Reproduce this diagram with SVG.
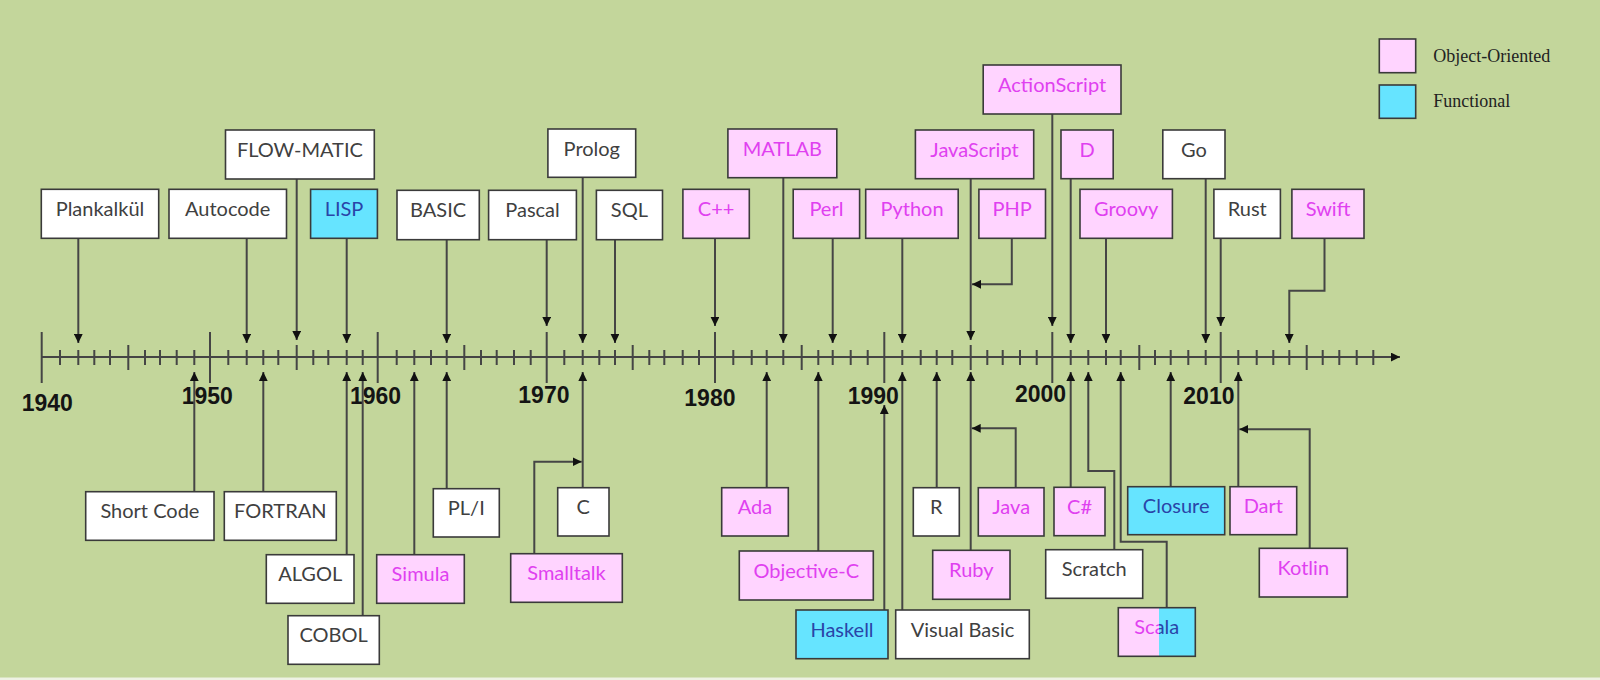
<svg xmlns="http://www.w3.org/2000/svg" width="1600" height="680" viewBox="0 0 1600 680">
<defs>
<style>
.w{fill:#ffffff;stroke:#3a3a3a;stroke-width:1.6}
.p{fill:#ffd4ff;stroke:#3a3a3a;stroke-width:1.6}
.b{fill:#66e4ff;stroke:#3a3a3a;stroke-width:1.6}
.t{font-family:Lato,"Liberation Sans",sans-serif;font-size:20px;text-anchor:middle}
.tw{fill:#404040}
.tp{fill:#e040f0}
.tb{fill:#2a44a8}
.c{fill:none;stroke:#454545;stroke-width:2}
.yr{font-family:"Liberation Sans",Arial,sans-serif;font-weight:bold;font-size:23px;fill:#141414}
.lg{font-family:"Liberation Serif","Times New Roman",serif;font-size:18px;fill:#222}
.tk{fill:none;stroke:#454545;stroke-width:2}
</style>
<marker id="ah" markerWidth="9" markerHeight="9" refX="9" refY="4.4" orient="auto" markerUnits="userSpaceOnUse">
<path d="M0,0 L9,4.4 L0,8.8 z" fill="#111"/>
</marker>
<linearGradient id="scf" gradientUnits="userSpaceOnUse" x1="1118.3" y1="0" x2="1195.3" y2="0">
<stop offset="0.528" stop-color="#ffd4ff"/><stop offset="0.528" stop-color="#66e4ff"/>
</linearGradient>
<linearGradient id="sct" gradientUnits="userSpaceOnUse" x1="1118.3" y1="0" x2="1195.3" y2="0">
<stop offset="0.528" stop-color="#e040f0"/><stop offset="0.528" stop-color="#2a44a8"/>
</linearGradient>
</defs>
<rect x="0" y="0" width="1600" height="680" fill="#c3d69b"/>
<rect x="0" y="677.5" width="1600" height="2.5" fill="#eef2e4"/>

<g id="axis">
<path class="c" d="M41.7,357 H1400" marker-end="url(#ah)"/>
<path class="tk" d="M41.7,332V383M210,332V383M377.7,332V383M546.7,332V383M715,332V383M884.3,332V383M1052.3,332V383M1220.7,332V383"/>
<path class="tk" d="M128.3,345V370M296.7,345V370M464.3,345V370M632.7,345V370M801.7,345V370M970.7,345V370M1139.3,345V370M1306.7,345V370"/>
<path class="tk" d="M60,350V365M78.3,350V365M94.3,350V365M110,350V365M145,350V365M160,350V365M176.7,350V365M194.3,350V365M228.3,350V365M246.7,350V365M263.3,350V365M278.3,350V365M313.3,350V365M328.3,350V365M346.7,350V365M362.7,350V365M396.7,350V365M414.3,350V365M431,350V365M446.7,350V365M481,350V365M496.7,350V365M514,350V365M530.7,350V365M564.3,350V365M582.7,350V365M599.3,350V365M615,350V365M649.3,350V365M664.3,350V365M682.7,350V365M699,350V365M733.3,350V365M751.7,350V365M766.7,350V365M783.3,350V365M818.3,350V365M832.7,350V365M850.7,350V365M867.7,350V365M902.3,350V365M920.7,350V365M936.7,350V365M952.3,350V365M987.3,350V365M1002.7,350V365M1020,350V365M1036.7,350V365M1070.7,350V365M1088.3,350V365M1106,350V365M1120.7,350V365M1155,350V365M1170.7,350V365M1188.3,350V365M1205.7,350V365M1238.3,350V365M1256.7,350V365M1273.3,350V365M1289.3,350V365M1322.7,350V365M1339.3,350V365M1356.7,350V365M1373.3,350V365"/>
<text class="yr" x="21.7" y="410.7">1940</text>
<text class="yr" x="181.7" y="404">1950</text>
<text class="yr" x="350" y="404">1960</text>
<text class="yr" x="518.3" y="403.3">1970</text>
<text class="yr" x="684.3" y="406">1980</text>
<text class="yr" x="847.7" y="404">1990</text>
<text class="yr" x="1015" y="401.7">2000</text>
<text class="yr" x="1183.3" y="404">2010</text>
</g>

<g id="connectors">
<path class="c" marker-end="url(#ah)" d="M78.3,238.3V343"/>
<path class="c" marker-end="url(#ah)" d="M246.7,238.3V343"/>
<path class="c" marker-end="url(#ah)" d="M296.7,179V340"/>
<path class="c" marker-end="url(#ah)" d="M346.7,238.3V343"/>
<path class="c" marker-end="url(#ah)" d="M446.7,239.7V343"/>
<path class="c" marker-end="url(#ah)" d="M546.7,239.7V326"/>
<path class="c" marker-end="url(#ah)" d="M582.7,177.3V343"/>
<path class="c" marker-end="url(#ah)" d="M615,239.7V343"/>
<path class="c" marker-end="url(#ah)" d="M715,238.3V326"/>
<path class="c" marker-end="url(#ah)" d="M783.3,177.7V343"/>
<path class="c" marker-end="url(#ah)" d="M832.7,238.3V343"/>
<path class="c" marker-end="url(#ah)" d="M902.3,238.3V343"/>
<path class="c" marker-end="url(#ah)" d="M970.7,178.7V340"/>
<path class="c" marker-end="url(#ah)" d="M1011.8,238.3V284.3H972"/>
<path class="c" marker-end="url(#ah)" d="M1052.3,114V326"/>
<path class="c" marker-end="url(#ah)" d="M1070.7,178.7V343"/>
<path class="c" marker-end="url(#ah)" d="M1106,238.3V343"/>
<path class="c" marker-end="url(#ah)" d="M1205.7,178.7V343"/>
<path class="c" marker-end="url(#ah)" d="M1220.7,238.3V326"/>
<path class="c" marker-end="url(#ah)" d="M1324.5,238.3V290.7H1289.3V343"/>

<path class="c" marker-end="url(#ah)" d="M194.3,491.7V372"/>
<path class="c" marker-end="url(#ah)" d="M263.3,491.7V372"/>
<path class="c" marker-end="url(#ah)" d="M346.7,554.7V372"/>
<path class="c" marker-end="url(#ah)" d="M362.7,615.7V372"/>
<path class="c" marker-end="url(#ah)" d="M414.3,554.7V372"/>
<path class="c" marker-end="url(#ah)" d="M446.7,488.7V372"/>
<path class="c" marker-end="url(#ah)" d="M582.7,487.7V372"/>
<path class="c" marker-end="url(#ah)" d="M534.3,553.7V461.7H581.7"/>
<path class="c" marker-end="url(#ah)" d="M766.7,487.7V372"/>
<path class="c" marker-end="url(#ah)" d="M818.3,551V372"/>
<path class="c" marker-end="url(#ah)" d="M884.3,610V405"/>
<path class="c" marker-end="url(#ah)" d="M902.3,610V372"/>
<path class="c" marker-end="url(#ah)" d="M936.7,487.7V372"/>
<path class="c" marker-end="url(#ah)" d="M970.7,550.3V372"/>
<path class="c" marker-end="url(#ah)" d="M1015.7,487.7V428.3H971.7"/>
<path class="c" marker-end="url(#ah)" d="M1070.7,487.3V372"/>
<path class="c" marker-end="url(#ah)" d="M1114.3,549.7V471H1088.3V372"/>
<path class="c" marker-end="url(#ah)" d="M1166.7,607.7V541.7H1120.7V372"/>
<path class="c" marker-end="url(#ah)" d="M1170.7,486.7V372"/>
<path class="c" marker-end="url(#ah)" d="M1238.3,486.7V372"/>
<path class="c" marker-end="url(#ah)" d="M1309.7,548.3V429.3H1239.3"/>
</g>

<g id="n-flowmatic"><rect class="w" x="225.5" y="130" width="148.8" height="49"/><text class="t tw" x="299.9" y="156.5">FLOW-MATIC</text></g>
<g id="n-plankalkul"><rect class="w" x="41.3" y="189.3" width="117.4" height="49"/><text class="t tw" x="100" y="216">Plankalkül</text></g>
<g id="n-autocode"><rect class="w" x="169" y="189.3" width="117.5" height="49"/><text class="t tw" x="227.7" y="216">Autocode</text></g>
<g id="n-lisp"><rect class="b" x="310.6" y="189.3" width="66.8" height="49"/><text class="t tb" x="344" y="216">LISP</text></g>
<g id="n-basic"><rect class="w" x="397" y="190.3" width="82.3" height="49.4"/><text class="t tw" x="438.1" y="217">BASIC</text></g>
<g id="n-pascal"><rect class="w" x="488.6" y="190.3" width="87.8" height="49.4"/><text class="t tw" x="532.5" y="217">Pascal</text></g>
<g id="n-prolog"><rect class="w" x="547.9" y="129" width="87.8" height="48.3"/><text class="t tw" x="591.8" y="155.5">Prolog</text></g>
<g id="n-sql"><rect class="w" x="596.4" y="190.3" width="66.1" height="49.4"/><text class="t tw" x="629.4" y="217">SQL</text></g>
<g id="n-cpp"><rect class="p" x="682.9" y="189.3" width="66.4" height="49"/><text class="t tp" x="716.1" y="216">C++</text></g>
<g id="n-matlab"><rect class="p" x="727.9" y="129" width="108.9" height="48.7"/><text class="t tp" x="782.3" y="155.5">MATLAB</text></g>
<g id="n-perl"><rect class="p" x="793.2" y="189.3" width="66.4" height="49"/><text class="t tp" x="826.4" y="216">Perl</text></g>
<g id="n-python"><rect class="p" x="865.7" y="189.3" width="92.5" height="49"/><text class="t tp" x="912" y="216">Python</text></g>
<g id="n-javascript"><rect class="p" x="915.4" y="130" width="118.3" height="48.7"/><text class="t tp" x="974.5" y="156.5">JavaScript</text></g>
<g id="n-php"><rect class="p" x="978.9" y="189.3" width="66.6" height="49"/><text class="t tp" x="1012.2" y="216">PHP</text></g>
<g id="n-actionscript"><rect class="p" x="983.2" y="65" width="137.8" height="49"/><text class="t tp" x="1052.1" y="91.5">ActionScript</text></g>
<g id="n-d"><rect class="p" x="1061" y="130" width="52.2" height="48.7"/><text class="t tp" x="1087.1" y="156.5">D</text></g>
<g id="n-groovy"><rect class="p" x="1080" y="189.3" width="92.4" height="49"/><text class="t tp" x="1126.2" y="216">Groovy</text></g>
<g id="n-go"><rect class="w" x="1162.8" y="130" width="62.2" height="48.7"/><text class="t tw" x="1193.9" y="156.5">Go</text></g>
<g id="n-rust"><rect class="w" x="1213.9" y="189.3" width="66.5" height="49"/><text class="t tw" x="1247.2" y="216">Rust</text></g>
<g id="n-swift"><rect class="p" x="1291.9" y="189.3" width="72.1" height="49"/><text class="t tp" x="1328" y="216">Swift</text></g>

<g id="n-shortcode"><rect class="w" x="85.7" y="491.7" width="128.3" height="48.6"/><text class="t tw" x="149.9" y="518.2">Short Code</text></g>
<g id="n-fortran"><rect class="w" x="224.3" y="491.7" width="112" height="48.6"/><text class="t tw" x="280.3" y="518.2">FORTRAN</text></g>
<g id="n-algol"><rect class="w" x="266.3" y="554.7" width="87.7" height="48.6"/><text class="t tw" x="310.2" y="581.2">ALGOL</text></g>
<g id="n-cobol"><rect class="w" x="288" y="615.7" width="91.3" height="48.6"/><text class="t tw" x="333.7" y="642.2">COBOL</text></g>
<g id="n-simula"><rect class="p" x="376.7" y="554.7" width="87.6" height="48.6"/><text class="t tp" x="420.5" y="581.2">Simula</text></g>
<g id="n-pli"><rect class="w" x="433.3" y="488.7" width="66" height="48.3"/><text class="t tw" x="466.3" y="515.2">PL/I</text></g>
<g id="n-smalltalk"><rect class="p" x="510.7" y="553.7" width="111.6" height="48.6"/><text class="t tp" x="566.5" y="580.2">Smalltalk</text></g>
<g id="n-c"><rect class="w" x="557.7" y="487.7" width="51.3" height="48.3"/><text class="t tw" x="583.3" y="514.2">C</text></g>
<g id="n-ada"><rect class="p" x="721.7" y="487.7" width="66.6" height="48.3"/><text class="t tp" x="755" y="514.2">Ada</text></g>
<g id="n-objectivec"><rect class="p" x="739.3" y="551" width="134" height="49"/><text class="t tp" x="806.3" y="577.5">Objective-C</text></g>
<g id="n-haskell"><rect class="b" x="796" y="610" width="92" height="48.7"/><text class="t tb" x="842" y="636.5">Haskell</text></g>
<g id="n-visualbasic"><rect class="w" x="895.7" y="610" width="133.6" height="48.7"/><text class="t tw" x="962.5" y="636.5">Visual Basic</text></g>
<g id="n-r"><rect class="w" x="913.3" y="487.7" width="46" height="48.3"/><text class="t tw" x="936.3" y="514.2">R</text></g>
<g id="n-ruby"><rect class="p" x="932.7" y="550.3" width="77.3" height="49"/><text class="t tp" x="971.3" y="576.8">Ruby</text></g>
<g id="n-java"><rect class="p" x="978.3" y="487.7" width="65.7" height="48.3"/><text class="t tp" x="1011.2" y="514.2">Java</text></g>
<g id="n-csharp"><rect class="p" x="1054" y="487.3" width="51" height="48.4"/><text class="t tp" x="1079.5" y="513.8">C#</text></g>
<g id="n-scratch"><rect class="w" x="1045.7" y="549.7" width="97" height="48.6"/><text class="t tw" x="1094.2" y="576.2">Scratch</text></g>
<g id="n-scala"><rect x="1118.3" y="607.7" width="77" height="48.6" fill="url(#scf)" stroke="#3a3a3a" stroke-width="1.6"/><text class="t" x="1156.8" y="634.2" fill="url(#sct)">Scala</text></g>
<g id="n-closure"><rect class="b" x="1127.7" y="486.7" width="97" height="48"/><text class="t tb" x="1176.2" y="513.2">Closure</text></g>
<g id="n-dart"><rect class="p" x="1230" y="486.7" width="66.7" height="48"/><text class="t tp" x="1263.3" y="513.2">Dart</text></g>
<g id="n-kotlin"><rect class="p" x="1259.3" y="548.3" width="88" height="48.7"/><text class="t tp" x="1303.3" y="574.8">Kotlin</text></g>

<g id="legend">
<rect class="p" x="1379.3" y="39" width="36.4" height="33.7"/>
<text class="lg" x="1433.3" y="61.7">Object-Oriented</text>
<rect class="b" x="1379.3" y="85" width="36.4" height="33.3"/>
<text class="lg" x="1433.3" y="106.7">Functional</text>
</g>
</svg>
